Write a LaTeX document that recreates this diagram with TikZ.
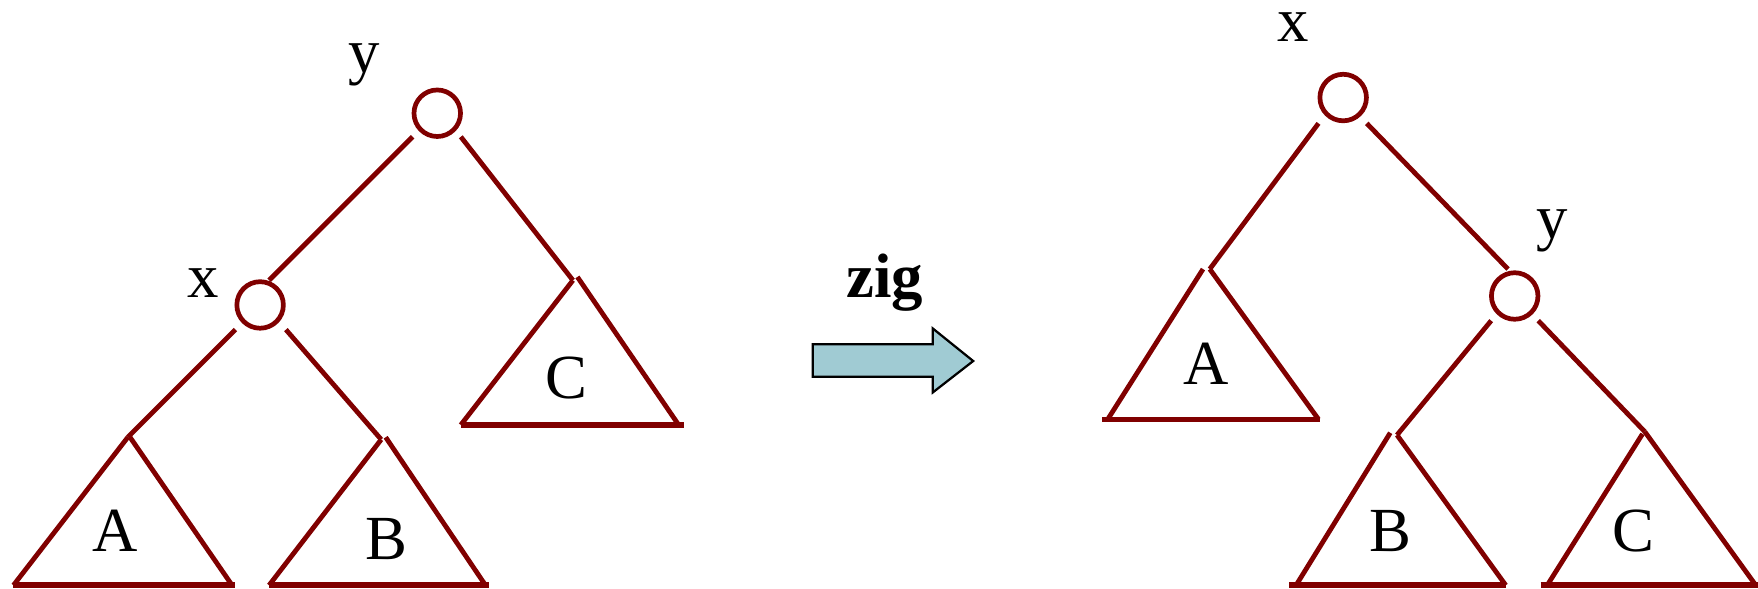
\documentclass[tikz,border=0pt]{standalone}
\usepackage{fontspec}
\setmainfont{Liberation Serif}
\definecolor{treered}{HTML}{800000}
\definecolor{arrowblue}{HTML}{A0CBD3}
\begin{document}
\begin{tikzpicture}[x=1pt,y=-1pt,
  edge/.style={draw=treered,line width=4.3pt},
  base/.style={draw=treered,line width=5pt},
  knot/.style={circle,draw=treered,line width=4.2pt,minimum size=41.5pt,inner sep=0pt},
  lbl/.style={font=\fontsize{56}{60}\selectfont,anchor=base,inner sep=0pt},
]
\useasboundingbox (0,0) rectangle (1568,525);

% ---------- left tree ----------
\node[knot] (ly) at (390,101) {};
\node[knot] (lx) at (232,272) {};
\node[lbl] (lylab) at (325,65) {y};
\node[lbl] (lxlab) at (181,265) {x};
\node[lbl] (lA) at (103,492) {A};
\node[lbl] (lB) at (345,499) {B};
\node[lbl] (lC) at (505,355) {C};

\coordinate (ly1) at (368,122);
\coordinate (ly2) at (411,122);
\coordinate (lx0) at (240,250);
\coordinate (lx1) at (210,294);
\coordinate (lx2) at (255,294);
% triangle A
\coordinate (lAt) at (114,390);
\coordinate (lAt2) at (116,390);
\coordinate (lAl) at (12,522);
\coordinate (lAr) at (207,522);
\coordinate (lAr2) at (210,522);
% triangle B
\coordinate (lBt) at (340,392);
\coordinate (lBt2) at (344,390);
\coordinate (lBl) at (240,522);
\coordinate (lBr) at (433,522);
\coordinate (lBr2) at (436,522);
% triangle C
\coordinate (lCt) at (511,250);
\coordinate (lCt2) at (515,247);
\coordinate (lCl) at (411,379);
\coordinate (lCr) at (606,380);
\coordinate (lCr2) at (610,379);

\draw[edge] (ly1) -- (lx0);
\draw[edge] (ly2) -- (lCt);
\draw[edge] (lx1) -- (lAt);
\draw[edge] (lx2) -- (lBt);
\draw[edge] (lAt) -- (lAl);
\draw[edge] (lAt2) -- (lAr);
\draw[base] (lAl) -- (lAr2);
\draw[edge] (lBt) -- (lBl);
\draw[edge] (lBt2) -- (lBr);
\draw[base] (lBl) -- (lBr2);
\draw[edge] (lCt) -- (lCl);
\draw[edge] (lCt2) -- (lCr);
\draw[base] (lCl) -- (lCr2);

% ---------- arrow ----------
\node[font=\fontsize{56}{60}\selectfont\bfseries,anchor=base,inner sep=0pt] (zig) at (789,265) {zig};
\draw[black,line width=2pt,fill=arrowblue,line join=miter]
  (725,307) -- (832,307) -- (832,293) -- (868,322) -- (832,350) -- (832,336) -- (725,336) -- cycle;

% ---------- right tree ----------
\node[knot] (rx) at (1198,87) {};
\node[knot] (ry) at (1351,264) {};
\node[lbl] (rxlab) at (1153,37) {x};
\node[lbl] (rylab) at (1384,213) {y};
\node[lbl] (rA) at (1076,343) {A};
\node[lbl] (rB) at (1240,492) {B};
\node[lbl] (rC) at (1457,492) {C};

\coordinate (rx1) at (1176,110);
\coordinate (rx2) at (1219,110);
\coordinate (ry0) at (1345,240);
\coordinate (ry1) at (1330,286);
\coordinate (ry2) at (1372,286);
% triangle A
\coordinate (rAt) at (1073,240);
\coordinate (rAt2) at (1079,240);
\coordinate (rAl) at (988,374);
\coordinate (rAl2) at (983,374);
\coordinate (rAr) at (1176,374);
\coordinate (rAr2) at (1177,374);
% triangle B
\coordinate (rBt) at (1240,386);
\coordinate (rBt2) at (1246,388);
\coordinate (rBl) at (1156,522);
\coordinate (rBl2) at (1150,522);
\coordinate (rBr) at (1343,522);
% triangle C
\coordinate (rCt) at (1465,387);
\coordinate (rCt2) at (1467,385);
\coordinate (rCl) at (1380,522);
\coordinate (rCl2) at (1374,522);
\coordinate (rCr) at (1566,522);
\coordinate (rCr2) at (1568,522);

\draw[edge] (rx1) -- (rAt2);
\draw[edge] (rx2) -- (ry0);
\draw[edge] (ry1) -- (rBt2);
\draw[edge] (ry2) -- (rCt2);
\draw[edge] (rAt) -- (rAl);
\draw[edge] (rAt2) -- (rAr);
\draw[base] (rAl2) -- (rAr2);
\draw[edge] (rBt) -- (rBl);
\draw[edge] (rBt2) -- (rBr);
\draw[base] (rBl2) -- (rBr);
\draw[edge] (rCt) -- (rCl);
\draw[edge] (rCt2) -- (rCr);
\draw[base] (rCl2) -- (rCr2);
\end{tikzpicture}
\end{document}
